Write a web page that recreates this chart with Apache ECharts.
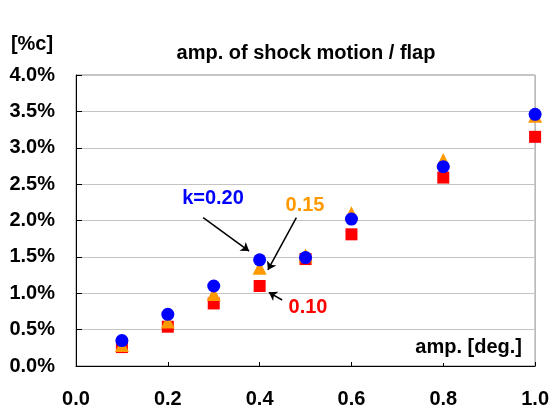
<!DOCTYPE html>
<html>
<head>
<meta charset="utf-8">
<script src="https://cdn.jsdelivr.net/npm/echarts@6.0.0/dist/echarts.min.js"></script>
<style>
  html, body { margin: 0; padding: 0; background: #fff; }
  #chart { width: 552px; height: 411px; }
</style>
</head>
<body>
<div id="chart"></div>
<script>
// amplitude [deg.]
const amps = [0.1, 0.2, 0.3, 0.4, 0.5, 0.6, 0.8, 1.0]
// shock motion amplitude [%c] for each reduced frequency
const k010 = [0.26, 0.54, 0.86, 1.10, 1.47, 1.81, 2.59, 3.15]
const k015 = [0.29, 0.61, 0.99, 1.35, 1.52, 2.10, 2.83, 3.44]
const k020 = [0.35, 0.71, 1.10, 1.46, 1.49, 2.02, 2.74, 3.46]

const xTicks = { min: 0, max: 1, step: 0.2 }
const yTicks = { min: 0, max: 4, step: 0.5 }

// arrows, in data coordinates [from, to]
const arrows = [
  [[0.277, 2.04], [0.377, 1.58]],
  [[0.480, 2.04], [0.418, 1.32]],
  [[0.449, 0.907], [0.420, 1.013]]
]

const font = '"Liberation Sans", Arial, sans-serif'

function pairs(ys) {
  return amps.map((x, i) => [x, ys[i]])
}

const chart = echarts.init(document.getElementById('chart'))

function label(text, x, y, color, extra) {
  return Object.assign({
    type: 'text',
    x: x,
    y: y,
    style: {
      text: text,
      fill: color,
      font: 'bold 20px ' + font,
      textAlign: 'center',
      textVerticalAlign: 'middle'
    }
  }, extra || {})
}

chart.setOption({
  animation: false,
  backgroundColor: '#fff',
  grid: {
    left: 76,
    right: 14,
    top: 75,
    bottom: 45,
    show: true,
    borderColor: '#8c8c8c',
    borderWidth: 1,
    backgroundColor: '#fff'
  },
  xAxis: {
    type: 'value',
    min: xTicks.min,
    max: xTicks.max,
    interval: xTicks.step,
    axisLine: { show: true, onZero: false, lineStyle: { color: '#000', width: 1 } },
    axisTick: { show: true, inside: true, length: 4, lineStyle: { color: '#000' } },
    splitLine: { show: false },
    axisLabel: {
      margin: 23,
      color: '#000',
      fontFamily: font,
      fontWeight: 'bold',
      fontSize: 20,
      formatter: v => v.toFixed(1)
    }
  },
  yAxis: {
    type: 'value',
    min: yTicks.min,
    max: yTicks.max,
    interval: yTicks.step,
    axisLine: { show: true, onZero: false, lineStyle: { color: '#000', width: 1 } },
    axisTick: { show: true, inside: true, length: 6, lineStyle: { color: '#000' } },
    splitLine: { show: true, lineStyle: { color: '#c4c4c4', width: 1 } },
    axisLabel: {
      margin: 21,
      color: '#000',
      fontFamily: font,
      fontWeight: 'bold',
      fontSize: 20,
      formatter: v => v.toFixed(1) + '%'
    }
  },
  series: [
    {
      name: 'k=0.10',
      type: 'scatter',
      symbol: 'rect',
      symbolSize: 12,
      itemStyle: { color: '#ff0000', opacity: 1 },
      data: pairs(k010),
      z: 2
    },
    {
      name: 'k=0.15',
      type: 'scatter',
      symbol: 'triangle',
      symbolSize: 14,
      itemStyle: { color: '#ff9900', opacity: 1 },
      data: pairs(k015),
      z: 3
    },
    {
      name: 'k=0.20',
      type: 'scatter',
      symbol: 'circle',
      symbolSize: 13,
      itemStyle: { color: '#0000ff', opacity: 1 },
      data: pairs(k020),
      z: 4,
      markLine: {
        silent: true,
        symbol: ['none', 'arrow'],
        symbolSize: 8,
        label: { show: false },
        lineStyle: { color: '#000', width: 1.5, type: 'solid' },
        data: arrows.map(a => [{ coord: a[0] }, { coord: a[1] }])
      }
    }
  ],
  graphic: [
    label('[%c]', 32, 44, '#000'),
    label('amp. of shock motion / flap', 306, 53, '#000'),
    label('k=0.20', 213, 198, '#0000ff'),
    label('0.15', 305, 205, '#ff9900'),
    label('0.10', 308, 307, '#ff0000'),
    {
      type: 'text',
      x: 528,
      y: 347,
      z: 10,
      style: {
        text: 'amp. [deg.]',
        fill: '#000',
        font: 'bold 20px ' + font,
        textAlign: 'right',
        textVerticalAlign: 'middle',
        backgroundColor: '#fff',
        padding: [9, 6, 3, 4]
      }
    }
  ]
})
</script>
</body>
</html>
